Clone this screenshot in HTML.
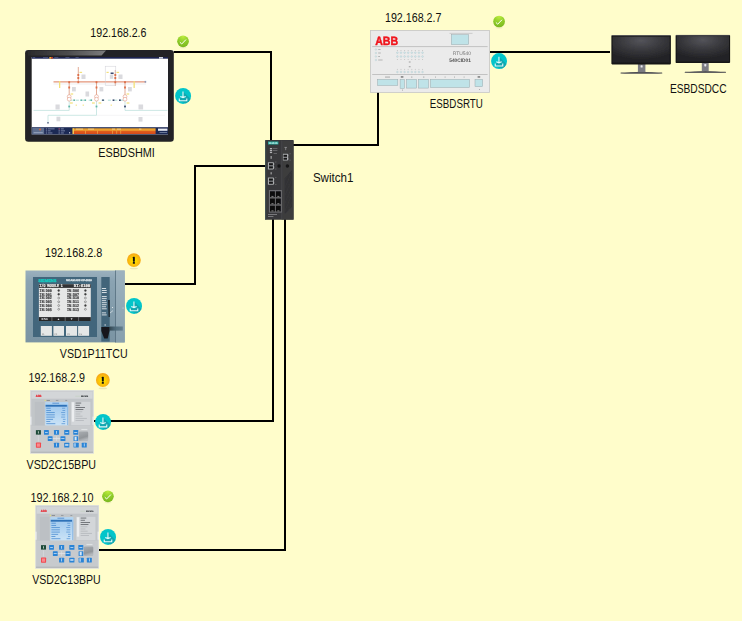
<!DOCTYPE html>
<html><head><meta charset="utf-8"><title>Network topology</title>
<style>
html,body{margin:0;padding:0;background:#fffdcb;overflow:hidden}
svg{display:block;font-family:"Liberation Sans",sans-serif;font-size:12px;fill:#111}
#tcu,#rtu,#switch,#bpuart,#hmi,#dcc{text-rendering:geometricPrecision}
</style></head><body>
<svg width="742" height="621" viewBox="0 0 742 621">
<defs>
<radialGradient id="gok" cx="0.5" cy="0.08" r="0.95"><stop offset="0" stop-color="#bdec3e"/><stop offset="0.45" stop-color="#93d12b"/><stop offset="1" stop-color="#78b41f"/></radialGradient>
<radialGradient id="gwarn" cx="0.5" cy="0.55" r="0.55"><stop offset="0" stop-color="#ffec00"/><stop offset="0.35" stop-color="#ffd400"/><stop offset="1" stop-color="#f5a31a"/></radialGradient>
<clipPath id="dlclip"><circle r="8"/></clipPath>
<g id="ok"><ellipse cx="0" cy="6.3" rx="3.6" ry="0.7" fill="#e9e6b4" opacity="0.8"/><circle r="5.85" fill="url(#gok)"/><path d="M-3.2,0.9 L-1.35,2.7 L2.95,-1.75" fill="none" stroke="#fff" stroke-width="1.0" stroke-linejoin="round"/></g>
<g id="warn"><ellipse cx="0" cy="8.4" rx="4.2" ry="0.8" fill="#dcdba8" opacity="0.6"/><circle r="6.9" fill="url(#gwarn)"/><rect x="-1" y="-3.2" width="1.95" height="4.8" rx="0.4" fill="#111"/><rect x="-1.1" y="2.05" width="2.15" height="1.65" rx="0.5" fill="#111"/></g>
<g id="dl"><circle r="8" fill="#03c5ca"/><path d="M0,-4.4 L8,3.6 L8,8 L3.7,8 L-3.8,4.9 L-3.8,2.4 L0,1.7 Z" fill="#12a7b0" clip-path="url(#dlclip)"/><path d="M-0.1,-4.4 V1.2 M-2.8,0.55 L-0.1,1.7 L2.6,0.55 M-3.8,2.5 V4.9 H3.7 V2.5" fill="none" stroke="#e4fafa" stroke-width="1.1"/></g>
<filter id="soft" x="-5%" y="-5%" width="110%" height="110%"><feGaussianBlur stdDeviation="0.35"/></filter>
<linearGradient id="gloss" x1="0" y1="0" x2="1" y2="0"><stop offset="0" stop-color="#2a2a2c"/><stop offset="0.5" stop-color="#4a4a4c"/><stop offset="1" stop-color="#7c7c7e"/></linearGradient>
<linearGradient id="alarm" x1="0" y1="0" x2="0" y2="1"><stop offset="0" stop-color="#e8a030"/><stop offset="0.36" stop-color="#f0a22c"/><stop offset="0.46" stop-color="#e0601f"/><stop offset="1" stop-color="#d64a1a"/></linearGradient>
<radialGradient id="scr" cx="0.5" cy="0.15" r="0.75" gradientTransform="translate(0 0) scale(1 1)"><stop offset="0" stop-color="#54545a"/><stop offset="0.55" stop-color="#36363a"/><stop offset="1" stop-color="#222225"/></radialGradient>
<clipPath id="ventclip"><path d="M291.8,170.6 L284.9,178.4 V213.4 L291.8,206.6 Z"/></clipPath>
<linearGradient id="lcd" x1="0" y1="0" x2="0" y2="1"><stop offset="0" stop-color="#b4d6f3"/><stop offset="0.25" stop-color="#a6cdf0"/><stop offset="1" stop-color="#cbe3f6"/></linearGradient>
<linearGradient id="cover" x1="0" y1="0" x2="0.3" y2="1"><stop offset="0" stop-color="#a9adb1"/><stop offset="0.7" stop-color="#92969a"/><stop offset="1" stop-color="#b4b8bc"/></linearGradient>
<g id="bpuart" filter="url(#soft)"><rect x="0.01" y="0.02" width="63.75" height="63.61" fill="#d9dbdd"/>
<rect x="0.82" y="0.83" width="62.13" height="61.99" fill="#c9cccf"/>
<rect x="1.49" y="1.64" width="60.78" height="6.74" fill="#d3d6d8"/>
<rect x="1.49" y="8.92" width="60.78" height="27.09" fill="#c2c6c9"/>
<rect x="1.49" y="36.54" width="60.78" height="24.39" fill="#c7cacd"/>
<rect x="0.82" y="61.48" width="62.13" height="1.35" fill="#b4b8bb"/>
<rect x="0.01" y="26.57" width="1.35" height="8.09" fill="#eceeef"/>
<rect x="62.41" y="26.57" width="1.35" height="8.09" fill="#eceeef"/>
<text x="5.67" y="7.16" textLength="5.66" lengthAdjust="spacingAndGlyphs" style="font-size:3px;font-weight:bold;fill:#e8222c;stroke:#e8222c;stroke-width:0.2px">ABB</text>
<text x="50.82" y="6.89" textLength="7.28" lengthAdjust="spacingAndGlyphs" style="font-size:2.2px;font-weight:bold;fill:#3c4044;stroke:#3c4044;stroke-width:0.15px">REF615</text>
<rect x="45.16" y="5.68" width="5.12" height="0.81" fill="#c6d2c4"/>
<rect x="14.56" y="9.72" width="1.08" height="1.08" fill="#ecea6a"/>
<rect x="16.45" y="9.86" width="3.37" height="0.81" fill="#7d8186"/>
<rect x="25.75" y="9.86" width="2.56" height="0.81" fill="#8d9196"/>
<rect x="35.18" y="9.86" width="1.89" height="0.81" fill="#8d9196"/>
<rect x="4.72" y="11.75" width="9.43" height="23.32" fill="#bcc0c4"/>
<rect x="15.1" y="12.02" width="23.05" height="23.32" fill="url(#lcd)"/>
<rect x="22.25" y="12.55" width="6.74" height="1.21" fill="#6fa0d6"/>
<rect x="15.51" y="14.71" width="21.29" height="1.89" fill="#2f72b8"/>
<rect x="36.94" y="14.71" width="1.08" height="20.35" fill="#8fbbe6"/>
<rect x="16.18" y="17.68" width="4.45" height="0.81" fill="#4f8fd2"/>
<rect x="31.95" y="17.68" width="3.1" height="0.81" fill="#5f9ad6"/>
<rect x="16.18" y="19.9" width="4.72" height="0.81" fill="#4f8fd2"/>
<rect x="32.35" y="19.9" width="2.7" height="0.81" fill="#5f9ad6"/>
<rect x="16.18" y="22.12" width="8.49" height="0.81" fill="#4f8fd2"/>
<rect x="31.01" y="22.12" width="4.04" height="0.81" fill="#5f9ad6"/>
<rect x="16.18" y="24.35" width="8.49" height="0.81" fill="#4f8fd2"/>
<rect x="31.41" y="24.35" width="3.64" height="0.81" fill="#5f9ad6"/>
<rect x="16.18" y="26.57" width="8.49" height="0.81" fill="#4f8fd2"/>
<rect x="31.01" y="26.57" width="4.04" height="0.81" fill="#5f9ad6"/>
<rect x="16.18" y="28.79" width="6.74" height="0.81" fill="#4f8fd2"/>
<rect x="32.76" y="28.79" width="2.7" height="0.81" fill="#5f9ad6"/>
<rect x="16.18" y="31.02" width="4.04" height="0.81" fill="#4f8fd2"/>
<rect x="32.76" y="31.02" width="2.29" height="0.81" fill="#5f9ad6"/>
<rect x="16.18" y="33.24" width="9.03" height="0.81" fill="#4f8fd2"/>
<rect x="31.41" y="33.24" width="3.64" height="0.81" fill="#5f9ad6"/>
<rect x="41.11" y="11.75" width="19.14" height="23.32" fill="#d3d6d9"/>
<rect x="41.65" y="12.15" width="2.29" height="19.41" fill="#eceef0"/>
<rect x="45.43" y="12.55" width="5.66" height="0.81" fill="#5e6267"/>
<rect x="45.43" y="14.74" width="4.31" height="0.81" fill="#5e6267"/>
<rect x="45.43" y="16.92" width="9.43" height="0.81" fill="#5e6267"/>
<rect x="45.43" y="19.1" width="7.82" height="0.81" fill="#5e6267"/>
<rect x="45.43" y="21.29" width="6.74" height="0.81" fill="#b4b8bc"/>
<rect x="45.43" y="23.47" width="4.85" height="0.81" fill="#b4b8bc"/>
<rect x="45.43" y="25.65" width="7.01" height="0.81" fill="#b4b8bc"/>
<rect x="45.43" y="27.84" width="11.32" height="0.81" fill="#b4b8bc"/>
<rect x="45.43" y="30.02" width="8.36" height="0.81" fill="#b4b8bc"/>
<rect x="5.8" y="40.05" width="4.99" height="4.45" fill="#1d4a38"/>
<rect x="13.89" y="39.91" width="4.85" height="4.72" fill="#2b84d6" rx="0.5"/>
<rect x="23.86" y="39.91" width="5.12" height="4.72" fill="#2b84d6" rx="0.5"/>
<rect x="34.1" y="39.91" width="5.12" height="4.72" fill="#2b84d6" rx="0.5"/>
<rect x="43.13" y="39.91" width="4.99" height="4.72" fill="#2b84d6" rx="0.5"/>
<rect x="17.66" y="46.11" width="4.85" height="4.72" fill="#2b84d6" rx="0.5"/>
<rect x="30.33" y="46.11" width="4.99" height="4.72" fill="#2b84d6" rx="0.5"/>
<rect x="43.4" y="46.11" width="4.72" height="4.72" fill="#2b84d6" rx="0.5"/>
<rect x="22.51" y="48.13" width="7.82" height="0.54" fill="#eef0f2"/>
<rect x="26.02" y="46.11" width="0.54" height="4.72" fill="#dfe2e5"/>
<rect x="7.82" y="45.03" width="0.54" height="6.47" fill="#dde0e3"/>
<rect x="5.8" y="52.45" width="5.12" height="5.12" fill="#f2484e" rx="0.6"/>
<rect x="23.86" y="52.58" width="5.12" height="4.85" fill="#2b84d6" rx="0.5"/>
<rect x="34.1" y="52.58" width="5.12" height="4.85" fill="#2b84d6" rx="0.5"/>
<rect x="43.4" y="52.58" width="5.26" height="4.85" fill="#2b84d6" rx="0.5"/>
<rect x="51.63" y="52.58" width="4.99" height="4.85" fill="#2b84d6" rx="0.5"/>
<rect x="7.82" y="41.13" width="0.81" height="2.29" fill="#cfe0d6"/>
<rect x="14.97" y="41.94" width="2.7" height="0.67" fill="#e6f1fb"/>
<rect x="26.15" y="40.86" width="0.67" height="2.83" fill="#e6f1fb"/>
<rect x="35.18" y="41.94" width="2.96" height="0.67" fill="#e6f1fb"/>
<rect x="44.08" y="41.94" width="3.1" height="0.67" fill="#e6f1fb"/>
<rect x="18.47" y="48.13" width="3.1" height="0.67" fill="#e6f1fb"/>
<rect x="31.14" y="48.13" width="3.23" height="0.67" fill="#e6f1fb"/>
<rect x="44.48" y="46.65" width="2.02" height="3.64" fill="#d5e8f8"/>
<rect x="26.15" y="53.26" width="0.67" height="3.1" fill="#e6f1fb"/>
<rect x="35.05" y="54.2" width="3.23" height="1.35" fill="#e6f1fb"/>
<rect x="44.35" y="53.12" width="1.08" height="3.5" fill="#e6f1fb"/>
<rect x="53.78" y="53.26" width="0.67" height="3.1" fill="#e6f1fb"/>
<rect x="6.75" y="53.39" width="3.1" height="3.23" fill="#f88a8e"/>
<rect x="48.66" y="41.4" width="9.43" height="9.43" fill="url(#cover)" rx="1.2"/>
<rect x="51.22" y="38.84" width="6.06" height="1.08" fill="#dfe2e4"/></g>
<linearGradient id="tcuside" x1="0" y1="0" x2="0" y2="1"><stop offset="0" stop-color="#9db2be"/><stop offset="1" stop-color="#879fad"/></linearGradient>
<linearGradient id="tcuband" x1="0" y1="0" x2="1" y2="0"><stop offset="0" stop-color="#2c3e49"/><stop offset="0.45" stop-color="#4b6777"/><stop offset="1" stop-color="#5d7888"/></linearGradient>
<linearGradient id="tcubody" x1="0" y1="0" x2="0" y2="1"><stop offset="0" stop-color="#9bb1be"/><stop offset="0.15" stop-color="#8aa3b2"/><stop offset="1" stop-color="#7a94a3"/></linearGradient>
</defs>
<!-- LINES -->
<g fill="none" stroke="#000" stroke-width="2" shape-rendering="crispEdges">
<path d="M173,52 H271 V141"/>
<path d="M293,145 H378 V92"/>
<path d="M490,52 H610"/>
<path d="M125,284 H195 V166 H266"/>
<path d="M94,421 H273 V219"/>
<path d="M99,550 H285 V219"/>
</g>
<!-- DEVICES -->
<g id="hmi" filter="url(#soft)">
<path d="M25.1,50 h3 l-3,3z M173.8,50 h-3 l3,3z" fill="#f4f2e4"/><rect x="25.1" y="50" width="148.7" height="91.7" rx="3.2" fill="#242425"/>
<path d="M28,50.5 H106 L101.5,55.4 H28 Z" fill="url(#gloss)"/>
<rect x="31.7" y="57" width="136.3" height="77.5" fill="#fff"/>
<rect x="31.7" y="57" width="136.3" height="1.7" fill="#1b2450"/>
<rect x="49.3" y="57" width="1.8" height="1.7" fill="#e8b030"/><rect x="51.1" y="57" width="1.7" height="1.7" fill="#d84a2a"/><g fill="#56608a"><rect x="32.6" y="57.3" width="2.6" height="1"/><rect x="43" y="57.3" width="5" height="1"/><rect x="54.3" y="57.3" width="4" height="1"/><rect x="65.4" y="57.3" width="4" height="1"/><rect x="75.5" y="57.3" width="3.2" height="1"/></g>
<rect x="159" y="57.1" width="4" height="1.5" fill="#dfe3ee"/>
<!-- single line diagram -->
<g fill="none">
<path d="M53.5,81.8 H146" stroke="#e3957a" stroke-width="1.35"/>
<path d="M53.5,84 H146" stroke="#dcdce2" stroke-width="0.5"/>
<path d="M78.3,67 V82 M69.2,82 V96 M96.5,82 V96 M125,82 V96 M115.3,70 V86" stroke="#e0a38a" stroke-width="0.9"/>
<rect x="105.2" y="66.2" width="10.6" height="19.2" stroke="#cfcfd6" stroke-width="0.5"/>
<path d="M69.5,100.2 H125" stroke="#9ad6cc" stroke-width="0.8" stroke-dasharray="3 3.4"/>
<path d="M69.2,101 V110.4 H33.5 M96.5,101 V115.3 H48 V122.5 M125,101 V110.4 H167.5" stroke="#b7deda" stroke-width="0.7"/>
<path d="M96.5,115.3 H165" stroke="#e4e4e8" stroke-width="0.4"/>
</g>
<g fill="#dc6f4a">
<rect x="77.4" y="74" width="1.8" height="2"/><rect x="77.4" y="77" width="1.8" height="2"/>
<rect x="114.4" y="74" width="1.8" height="2"/><rect x="114.4" y="77" width="1.8" height="2"/>
<rect x="68.3" y="86.5" width="1.8" height="2"/><rect x="95.6" y="86.5" width="1.8" height="2"/><rect x="124.1" y="86.5" width="1.8" height="2"/>
<rect x="68.3" y="81.2" width="1.8" height="2"/><rect x="77.4" y="81.2" width="1.8" height="2"/><rect x="95.6" y="81.2" width="1.8" height="2"/><rect x="114.4" y="81.2" width="1.8" height="2"/><rect x="124.1" y="81.2" width="1.8" height="2"/>
</g>
<g fill="#f3e07a">
<rect x="59" y="81" width="1.3" height="7"/><rect x="133.5" y="81" width="1.3" height="7"/>
<rect x="79.5" y="71.8" width="2.6" height="1.2"/><rect x="116.5" y="71.8" width="2.6" height="1.2"/><rect x="106.5" y="71.8" width="2.2" height="1.2"/><rect x="144.6" y="80.9" width="1.6" height="1.8" fill="#8f9ab8"/>
<rect x="70.6" y="93.4" width="2.6" height="1.2"/><rect x="126.6" y="93.4" width="2.6" height="1.2"/>
<rect x="70" y="102.4" width="2.8" height="1.2"/><rect x="92" y="102.4" width="2.8" height="1.2"/><rect x="98.5" y="102.4" width="2.8" height="1.2"/><rect x="126.6" y="102.4" width="2.8" height="1.2"/>
<rect x="75.7" y="104.5" width="1" height="1.4"/><rect x="82.7" y="104.5" width="1" height="1.4"/><rect x="110.7" y="104.5" width="1" height="1.4"/>
</g>
<g fill="#fff" stroke="#e39a84" stroke-width="0.6">
<circle cx="69.2" cy="96.6" r="1.9"/><circle cx="69.2" cy="99.2" r="1.9"/>
<circle cx="96.5" cy="96.6" r="1.9"/><circle cx="96.5" cy="99.2" r="1.9"/>
<circle cx="125" cy="96.6" r="1.9"/><circle cx="125" cy="99.2" r="1.9"/>
</g>
<g fill="#63b7a8">
<rect x="73.3" y="99.4" width="1.8" height="1.6"/><rect x="80.4" y="99.4" width="1.8" height="1.6"/><rect x="84.5" y="99.4" width="1.6" height="1.6"/><rect x="90.5" y="99.4" width="1.6" height="1.6"/>
<rect x="68.3" y="105.6" width="1.8" height="1.8"/><rect x="95.6" y="105.6" width="1.8" height="1.8"/>
</g>
<g fill="#3b4a6e">
<rect x="102.2" y="99.4" width="1.6" height="1.6"/><rect x="112.6" y="99.4" width="1.8" height="1.6"/><rect x="119" y="99.4" width="1.8" height="1.6"/><rect x="124.1" y="105.6" width="1.8" height="1.8"/>
<rect x="110.6" y="72.5" width="3" height="1.6"/><rect x="47.4" y="122" width="1.2" height="1.6"/>
</g>
<g fill="#dadade">
<rect x="81.5" y="74.5" width="4" height="4.5"/><rect x="118.5" y="74.5" width="4" height="4.5"/><rect x="109.8" y="74.8" width="3.4" height="4"/>
<rect x="72" y="87" width="3.8" height="4.4"/><rect x="99.5" y="87" width="3.8" height="4.4"/><rect x="128" y="87" width="3.8" height="4.4"/>
<rect x="85.5" y="91.5" width="3.6" height="5"/><rect x="55.5" y="104.5" width="4.2" height="5"/><rect x="138.5" y="104.5" width="4.6" height="5"/>
<rect x="56.5" y="116.7" width="3.8" height="4.6"/><rect x="138.5" y="117" width="4" height="4.6"/>
</g>
<!-- bottom status bar -->
<rect x="31.7" y="127.2" width="136.3" height="7.3" fill="#1e2a55"/>
<rect x="32.2" y="127.8" width="12" height="6.2" fill="#60708f"/>
<circle cx="40" cy="129.5" r="0.9" fill="#e8692c"/>
<rect x="33.6" y="132.2" width="9.2" height="1" fill="#98a6c0"/>
<g fill="#7d8bab"><rect x="45.8" y="128.4" width="1.4" height="1"/><rect x="48" y="128.4" width="6.6" height="0.9"/><rect x="45.8" y="130.4" width="1.4" height="1"/><rect x="48" y="130.4" width="2.6" height="0.9"/><rect x="45.8" y="132.5" width="1.4" height="1"/><rect x="48" y="132.5" width="4.4" height="0.9"/>
<rect x="58.5" y="128.4" width="1.4" height="1" fill="#c45a7a"/><rect x="60.8" y="128.4" width="3" height="0.9"/><rect x="58.5" y="130.4" width="1.4" height="1"/><rect x="60.8" y="130.4" width="4.2" height="0.9"/><rect x="58.5" y="132.5" width="1.4" height="1"/><rect x="60.8" y="132.5" width="3" height="0.9"/><rect x="69" y="132.2" width="1.2" height="1.2" fill="#c9d0e0"/></g>
<rect x="72.6" y="128.3" width="83" height="5.7" fill="url(#alarm)"/>
<rect x="72.6" y="128.3" width="1.3" height="5.7" fill="#f2d25a"/><g fill="#f4b850"><rect x="85.4" y="130.6" width="0.6" height="3.2"/><rect x="97" y="130.6" width="0.6" height="3.2"/><rect x="112.4" y="130.6" width="0.6" height="3.2"/><rect x="116.5" y="130.6" width="0.6" height="3.2"/><rect x="120.5" y="130.6" width="0.6" height="3.2"/></g><g fill="#f6d9a0"><rect x="76" y="128.7" width="7" height="0.8"/><rect x="88" y="128.7" width="6" height="0.8"/><rect x="112" y="128.7" width="3" height="0.8"/><rect x="117" y="128.7" width="4" height="0.8"/><rect x="139" y="128.7" width="2.4" height="0.8"/></g>
<rect x="158" y="128.6" width="9.4" height="2.2" fill="#e9ecf2"/>
<rect x="159.5" y="132" width="7.6" height="1" fill="#6b7896"/>
</g>

<g id="rtu" filter="url(#soft)">
<rect x="370.4" y="30.4" width="119.2" height="62" fill="#ebebeb" stroke="#c6c6c6" stroke-width="0.8"/>
<text x="375.2" y="44.6" textLength="23" lengthAdjust="spacingAndGlyphs" style="font-weight:bold;font-size:12px;fill:#f0141c;stroke:#f0141c;stroke-width:0.45px">ABB</text>
<rect x="449.5" y="32.9" width="23" height="0.6" fill="#b5b5b5"/>
<rect x="451.3" y="34.7" width="17.4" height="9.9" fill="#bfe3e8" stroke="#9aa9ad" stroke-width="0.5"/>
<path d="M372.2,46.6 H487.6 M372.2,74.5 H487.6" stroke="#a6a6a6" stroke-width="0.6" fill="none"/>
<circle cx="375.9" cy="49.5" r="0.8" fill="#d8eef0" stroke="#9fb9bd" stroke-width="0.3"/><rect x="378.2" y="49.1" width="2.4" height="0.8" fill="#a8a8a8"/><circle cx="375.9" cy="53" r="0.8" fill="#d8eef0" stroke="#9fb9bd" stroke-width="0.3"/><rect x="378.2" y="52.6" width="2.6" height="0.8" fill="#a8a8a8"/><circle cx="375.9" cy="56.5" r="0.8" fill="#d8eef0" stroke="#9fb9bd" stroke-width="0.3"/><rect x="378.2" y="56.1" width="1.8" height="0.8" fill="#a8a8a8"/><circle cx="375.9" cy="60" r="0.8" fill="#d8eef0" stroke="#9fb9bd" stroke-width="0.3"/><rect x="378.2" y="59.6" width="4.4" height="0.8" fill="#a8a8a8"/><circle cx="397.40" cy="52.7" r="0.85" fill="#d4ecef" stroke="#9db5ba" stroke-width="0.3"/><circle cx="397.40" cy="56.5" r="0.85" fill="#d4ecef" stroke="#9db5ba" stroke-width="0.3"/><circle cx="397.40" cy="72.0" r="0.85" fill="#d4ecef" stroke="#9db5ba" stroke-width="0.3"/><rect x="396.90" y="50.15" width="1" height="0.6" fill="#b2b2b2"/><rect x="396.90" y="59.15" width="1" height="0.6" fill="#b2b2b2"/><rect x="396.90" y="68.95" width="1" height="0.6" fill="#b2b2b2"/><circle cx="400.99" cy="52.7" r="0.85" fill="#d4ecef" stroke="#9db5ba" stroke-width="0.3"/><circle cx="400.99" cy="56.5" r="0.85" fill="#d4ecef" stroke="#9db5ba" stroke-width="0.3"/><circle cx="400.99" cy="72.0" r="0.85" fill="#d4ecef" stroke="#9db5ba" stroke-width="0.3"/><rect x="400.49" y="50.15" width="1" height="0.6" fill="#b2b2b2"/><rect x="400.49" y="59.15" width="1" height="0.6" fill="#b2b2b2"/><rect x="400.49" y="68.95" width="1" height="0.6" fill="#b2b2b2"/><circle cx="404.58" cy="52.7" r="0.85" fill="#d4ecef" stroke="#9db5ba" stroke-width="0.3"/><circle cx="404.58" cy="56.5" r="0.85" fill="#d4ecef" stroke="#9db5ba" stroke-width="0.3"/><circle cx="404.58" cy="72.0" r="0.85" fill="#d4ecef" stroke="#9db5ba" stroke-width="0.3"/><rect x="404.08" y="50.15" width="1" height="0.6" fill="#b2b2b2"/><rect x="404.08" y="59.15" width="1" height="0.6" fill="#b2b2b2"/><rect x="404.08" y="68.95" width="1" height="0.6" fill="#b2b2b2"/><circle cx="408.17" cy="52.7" r="0.85" fill="#d4ecef" stroke="#9db5ba" stroke-width="0.3"/><circle cx="408.17" cy="56.5" r="0.85" fill="#d4ecef" stroke="#9db5ba" stroke-width="0.3"/><circle cx="408.17" cy="72.0" r="0.85" fill="#d4ecef" stroke="#9db5ba" stroke-width="0.3"/><rect x="407.67" y="50.15" width="1" height="0.6" fill="#b2b2b2"/><rect x="407.67" y="59.15" width="1" height="0.6" fill="#b2b2b2"/><rect x="407.67" y="68.95" width="1" height="0.6" fill="#b2b2b2"/><circle cx="411.76" cy="52.7" r="0.85" fill="#d4ecef" stroke="#9db5ba" stroke-width="0.3"/><circle cx="411.76" cy="56.5" r="0.85" fill="#d4ecef" stroke="#9db5ba" stroke-width="0.3"/><circle cx="411.76" cy="72.0" r="0.85" fill="#d4ecef" stroke="#9db5ba" stroke-width="0.3"/><rect x="411.26" y="50.15" width="1" height="0.6" fill="#b2b2b2"/><rect x="411.26" y="59.15" width="1" height="0.6" fill="#b2b2b2"/><rect x="411.26" y="68.95" width="1" height="0.6" fill="#b2b2b2"/><circle cx="415.35" cy="52.7" r="0.85" fill="#d4ecef" stroke="#9db5ba" stroke-width="0.3"/><circle cx="415.35" cy="56.5" r="0.85" fill="#d4ecef" stroke="#9db5ba" stroke-width="0.3"/><circle cx="415.35" cy="72.0" r="0.85" fill="#d4ecef" stroke="#9db5ba" stroke-width="0.3"/><rect x="414.85" y="50.15" width="1" height="0.6" fill="#b2b2b2"/><rect x="414.85" y="59.15" width="1" height="0.6" fill="#b2b2b2"/><rect x="414.85" y="68.95" width="1" height="0.6" fill="#b2b2b2"/><circle cx="418.94" cy="52.7" r="0.85" fill="#d4ecef" stroke="#9db5ba" stroke-width="0.3"/><circle cx="418.94" cy="56.5" r="0.85" fill="#d4ecef" stroke="#9db5ba" stroke-width="0.3"/><circle cx="418.94" cy="72.0" r="0.85" fill="#d4ecef" stroke="#9db5ba" stroke-width="0.3"/><rect x="418.44" y="50.15" width="1" height="0.6" fill="#b2b2b2"/><rect x="418.44" y="59.15" width="1" height="0.6" fill="#b2b2b2"/><rect x="418.44" y="68.95" width="1" height="0.6" fill="#b2b2b2"/><circle cx="422.53" cy="52.7" r="0.85" fill="#d4ecef" stroke="#9db5ba" stroke-width="0.3"/><circle cx="422.53" cy="56.5" r="0.85" fill="#d4ecef" stroke="#9db5ba" stroke-width="0.3"/><circle cx="422.53" cy="72.0" r="0.85" fill="#d4ecef" stroke="#9db5ba" stroke-width="0.3"/><rect x="422.03" y="50.15" width="1" height="0.6" fill="#b2b2b2"/><rect x="422.03" y="59.15" width="1" height="0.6" fill="#b2b2b2"/><rect x="422.03" y="68.95" width="1" height="0.6" fill="#b2b2b2"/>
<rect x="408.8" y="61.6" width="1.8" height="0.8" fill="#8c8c8c"/><rect x="408.8" y="66.4" width="1.8" height="0.8" fill="#8c8c8c"/>
<text x="452.8" y="54.9" textLength="18.2" lengthAdjust="spacingAndGlyphs" style="font-size:5px;fill:#707070">RTU540</text>
<text x="449.2" y="61.6" textLength="21.8" lengthAdjust="spacingAndGlyphs" style="font-size:5px;font-weight:bold;fill:#505050">540CID01</text>
<g fill="#bfe3e8" stroke="#9aa9ad" stroke-width="0.5">
<rect x="377.6" y="79.4" width="20.2" height="6"/>
<rect x="400.1" y="79.4" width="4.3" height="9"/>
<rect x="406.5" y="79.4" width="10.2" height="8.7"/>
<rect x="418.4" y="79.4" width="10.2" height="8.7"/>
<rect x="430.4" y="79.4" width="39.2" height="8.1"/>
<rect x="475" y="79.4" width="7.7" height="7.3"/>
</g>
<g fill="#8e8e8e">
<rect x="385" y="76.7" width="5" height="0.7"/><rect x="400.8" y="76.4" width="2.6" height="1.1" fill="#555"/><rect x="411" y="76.7" width="1.4" height="0.7"/><rect x="423" y="76.7" width="1.4" height="0.7"/>
<rect x="435" y="76.7" width="1" height="0.7"/><rect x="444.6" y="76.7" width="1" height="0.7"/><rect x="454" y="76.7" width="1" height="0.7"/><rect x="463.6" y="76.7" width="1" height="0.7"/>
<rect x="477.6" y="76.4" width="2.6" height="1.1" fill="#555"/><rect x="402" y="89.6" width="0.7" height="1"/><rect x="479" y="89" width="0.8" height="0.8"/>
</g>
</g>

<g id="dcc" filter="url(#soft)">
<path d="M620.5,73.4 Q641.5,70.2 662.3,73.4 Z" fill="#55555a"/>
<rect x="620.5" y="72.6" width="41.8" height="1" rx="0.5" fill="#4a4a4f"/>
<rect x="637.9" y="63.5" width="7.5" height="8.6" fill="#7c7c83"/>
<rect x="640.6" y="65.2" width="2" height="2.4" rx="0.6" fill="#e8e8ee"/>
<rect x="611.4" y="35.3" width="59.5" height="29.1" rx="0.8" fill="#151517"/><rect x="611.8" y="35.3" width="58.7" height="0.7" fill="#5c5c62"/>
<rect x="612.6" y="36.6" width="57.1" height="26" fill="url(#scr)"/>
<path d="M684.7,72.5 Q705.3,69.4 726,72.5 Z" fill="#55555a"/>
<rect x="684.7" y="71.7" width="41.3" height="1" rx="0.5" fill="#4a4a4f"/>
<rect x="701.8" y="62.5" width="6.9" height="8.6" fill="#7c7c83"/>
<rect x="704.3" y="64" width="2" height="2.4" rx="0.6" fill="#e8e8ee"/>
<rect x="675.6" y="34.9" width="54.5" height="28.2" rx="0.8" fill="#151517"/><rect x="676" y="34.9" width="53.7" height="0.7" fill="#5c5c62"/>
<rect x="676.7" y="36.1" width="52.3" height="25.4" fill="url(#scr)"/>
</g>

<g id="switch" filter="url(#soft)">
<rect x="265.2" y="140.1" width="28.5" height="79.7" rx="0.6" fill="#38383a"/>
<rect x="265.2" y="140.1" width="1" height="79.7" fill="#3f5050"/>
<rect x="282" y="140.6" width="11.3" height="78.8" fill="#3c3c3e"/>
<rect x="281.6" y="140.6" width="0.5" height="78.8" fill="#555"/>
<rect x="268" y="141.5" width="10.4" height="3" fill="#23a79c"/>
<text x="268.7" y="144" textLength="9" lengthAdjust="spacingAndGlyphs" style="font-size:2.6px;font-weight:bold;fill:#d8f3ef">SIEMENS</text>
<g fill="#b4b4b7"><rect x="269.9" y="148" width="2.2" height="1.3"/><rect x="269.9" y="149.9" width="2.2" height="1.3"/><rect x="269.9" y="151.8" width="2.2" height="1.3"/><rect x="270.4" y="156" width="1.6" height="2.8" fill="#8a8a8c"/><rect x="270.4" y="172.2" width="1.6" height="2.2" fill="#8a8a8c"/></g>
<g fill="#77777a"><rect x="272.8" y="148.3" width="4.6" height="0.7"/><rect x="272.8" y="150.2" width="4.6" height="0.7"/><rect x="273.6" y="153" width="3.4" height="0.7"/><rect x="275.4" y="161.6" width="0.9" height="0.9"/><rect x="275.4" y="168.6" width="0.9" height="0.9"/><rect x="275.4" y="177.2" width="0.9" height="0.9"/><rect x="275.4" y="184" width="0.9" height="0.9"/><rect x="289.6" y="153.3" width="0.9" height="0.9"/><rect x="289.6" y="159.7" width="0.9" height="0.9"/></g>
<g fill="#a9abad">
<path d="M267.9,162.3 h5 q1.3,0 1.3,1.3 v1.2 q0,0.9 -0.9,1 q0.9,0.1 0.9,1 v1.3 q0,1.3 -1.3,1.3 h-5z"/>
<path d="M267.9,177.6 h5 q1.3,0 1.3,1.3 v1.2 q0,0.9 -0.9,1 q0.9,0.1 0.9,1 v1.3 q0,1.3 -1.3,1.3 h-5z"/>
<path d="M282.9,153.7 h4.3 q1.2,0 1.2,1.2 v1.1 q0,0.9 -0.9,1 q0.9,0.1 0.9,1 v1.2 q0,1.2 -1.2,1.2 h-4.3z"/>
</g>
<g fill="#161617"><rect x="269" y="163.2" width="3.9" height="2.2"/><rect x="269" y="166.3" width="3.9" height="2.2"/><rect x="269" y="178.5" width="3.9" height="2.2"/><rect x="269" y="181.6" width="3.9" height="2.2"/><rect x="283.5" y="154.8" width="3.5" height="2"/><rect x="283.5" y="157.7" width="3.5" height="2"/></g>
<path d="M284.4,147.4 h2.6 M285.7,147.4 v2.8" stroke="#aaa" stroke-width="0.6" fill="none"/>
<circle cx="279" cy="166" r="1.7" fill="#151516"/><circle cx="287.4" cy="166" r="1.7" fill="#151516"/>
<path d="M291.8,170.6 L284.9,178.4 V213.4 L291.8,206.6 Z" fill="#272729"/>
<path d="M284.9,175.50 L292.4,169.50 M284.9,176.65 L292.4,170.65 M284.9,177.80 L292.4,171.80 M284.9,178.95 L292.4,172.95 M284.9,180.10 L292.4,174.10 M284.9,181.25 L292.4,175.25 M284.9,182.40 L292.4,176.40 M284.9,183.55 L292.4,177.55 M284.9,184.70 L292.4,178.70 M284.9,185.85 L292.4,179.85 M284.9,187.00 L292.4,181.00 M284.9,188.15 L292.4,182.15 M284.9,189.30 L292.4,183.30 M284.9,190.45 L292.4,184.45 M284.9,191.60 L292.4,185.60 M284.9,192.75 L292.4,186.75 M284.9,193.90 L292.4,187.90 M284.9,195.05 L292.4,189.05 M284.9,196.20 L292.4,190.20 M284.9,197.35 L292.4,191.35 M284.9,198.50 L292.4,192.50 M284.9,199.65 L292.4,193.65 M284.9,200.80 L292.4,194.80 M284.9,201.95 L292.4,195.95 M284.9,203.10 L292.4,197.10 M284.9,204.25 L292.4,198.25 M284.9,205.40 L292.4,199.40 M284.9,206.55 L292.4,200.55 M284.9,207.70 L292.4,201.70 M284.9,208.85 L292.4,202.85 M284.9,210.00 L292.4,204.00 M284.9,211.15 L292.4,205.15 M284.9,212.30 L292.4,206.30 M284.9,213.45 L292.4,207.45 M284.9,214.60 L292.4,208.60 M284.9,215.75 L292.4,209.75 " stroke="#48484a" stroke-width="0.5" fill="none" clip-path="url(#ventclip)"/>
<rect x="268.9" y="190" width="13" height="22.6" fill="#6c6c6f"/>
<rect x="270.0" y="191.3" width="4.9" height="5.8" fill="#0c0c0d"/><rect x="271.4" y="195.9" width="2.1" height="1.2" fill="#777"/><rect x="275.9" y="191.3" width="4.9" height="5.8" fill="#0c0c0d"/><rect x="277.3" y="195.9" width="2.1" height="1.2" fill="#777"/><rect x="270.0" y="198.5" width="4.9" height="5.8" fill="#0c0c0d"/><rect x="271.4" y="203.1" width="2.1" height="1.2" fill="#777"/><rect x="275.9" y="198.5" width="4.9" height="5.8" fill="#0c0c0d"/><rect x="277.3" y="203.1" width="2.1" height="1.2" fill="#777"/><rect x="270.0" y="205.7" width="4.9" height="5.8" fill="#0c0c0d"/><rect x="271.4" y="210.3" width="2.1" height="1.2" fill="#777"/><rect x="275.9" y="205.7" width="4.9" height="5.8" fill="#0c0c0d"/><rect x="277.3" y="210.3" width="2.1" height="1.2" fill="#777"/>
<rect x="268" y="214.2" width="9" height="0.8" fill="#8a8a8c"/><rect x="268" y="216" width="5.4" height="0.8" fill="#8a8a8c"/>
</g>

<g id="tcu" filter="url(#soft)">
<rect x="25.5" y="270.5" width="99.2" height="71.9" fill="url(#tcubody)"/>
<rect x="115.4" y="270.5" width="9.3" height="71.9" fill="url(#tcuside)"/>
<rect x="115" y="270.5" width="0.8" height="71.9" fill="#566f7f"/>
<rect x="33" y="277" width="64" height="60" fill="#43667b"/>
<text x="38.3" y="281.95" textLength="18.2" lengthAdjust="spacingAndGlyphs" style="font-size:4px;font-weight:bold;fill:#18c7be;stroke:#18c7be;stroke-width:0.35px">SIEMENS</text>
<text x="66.1" y="281.1" textLength="25.6" lengthAdjust="spacingAndGlyphs" style="font-size:2.5px;font-weight:bold;fill:#e3ebee;stroke:#e3ebee;stroke-width:0.25px">SICAM AK3 CP-2016</text>
<rect x="38.9" y="284.2" width="51.9" height="36.8" fill="#e6e7e7"/>
<rect x="38.9" y="284.2" width="51.9" height="3.7" fill="#333335"/>
<g style="font-family:'Liberation Mono',monospace;font-size:4.3px;font-weight:bold;fill:#f2f2f2;stroke:#f2f2f2;stroke-width:0.2px"><text x="39.5" y="287.4" textLength="23.3" lengthAdjust="spacingAndGlyphs">I/O MODULE 1</text>
<text x="73.8" y="287.4" textLength="16.4" lengthAdjust="spacingAndGlyphs">DI-6100</text></g>
<g style="font-family:'Liberation Mono',monospace;font-size:4.3px;font-weight:bold;fill:#444446;stroke:#444446;stroke-width:0.2px"><text x="39.6" y="291.9" textLength="12.2" lengthAdjust="spacingAndGlyphs">IN:D00</text><text x="66.9" y="291.9" textLength="12.0" lengthAdjust="spacingAndGlyphs">IN:D06</text><circle cx="58.7" cy="290.55" r="0.95" fill="#3a3a3a" stroke="#4a4a4a" stroke-width="0.45"/><circle cx="85.4" cy="290.55" r="0.95" fill="#3a3a3a" stroke="#4a4a4a" stroke-width="0.45"/><text x="39.6" y="295.7" textLength="12.2" lengthAdjust="spacingAndGlyphs">IN:D01</text><text x="66.9" y="295.7" textLength="12.0" lengthAdjust="spacingAndGlyphs">IN:D07</text><circle cx="58.7" cy="294.30" r="0.95" fill="#3a3a3a" stroke="#4a4a4a" stroke-width="0.45"/><circle cx="85.4" cy="294.30" r="0.95" fill="#3a3a3a" stroke="#4a4a4a" stroke-width="0.45"/><text x="39.6" y="299.4" textLength="12.2" lengthAdjust="spacingAndGlyphs">IN:D02</text><text x="66.9" y="299.4" textLength="12.0" lengthAdjust="spacingAndGlyphs">IN:D10</text><circle cx="58.7" cy="298.05" r="0.95" fill="none" stroke="#4a4a4a" stroke-width="0.45"/><circle cx="85.4" cy="298.05" r="0.95" fill="none" stroke="#4a4a4a" stroke-width="0.45"/><text x="39.6" y="303.2" textLength="12.2" lengthAdjust="spacingAndGlyphs">IN:D03</text><text x="66.9" y="303.2" textLength="12.0" lengthAdjust="spacingAndGlyphs">IN:D11</text><circle cx="58.7" cy="301.80" r="0.95" fill="none" stroke="#4a4a4a" stroke-width="0.45"/><circle cx="85.4" cy="301.80" r="0.95" fill="none" stroke="#4a4a4a" stroke-width="0.45"/><text x="39.6" y="306.9" textLength="12.2" lengthAdjust="spacingAndGlyphs">IN:D04</text><text x="66.9" y="306.9" textLength="12.0" lengthAdjust="spacingAndGlyphs">IN:D12</text><circle cx="58.7" cy="305.55" r="0.95" fill="none" stroke="#4a4a4a" stroke-width="0.45"/><circle cx="85.4" cy="305.55" r="0.95" fill="#3a3a3a" stroke="#4a4a4a" stroke-width="0.45"/><text x="39.6" y="310.7" textLength="12.2" lengthAdjust="spacingAndGlyphs">IN:D05</text><text x="66.9" y="310.7" textLength="12.0" lengthAdjust="spacingAndGlyphs">IN:D13</text><circle cx="58.7" cy="309.30" r="0.95" fill="none" stroke="#4a4a4a" stroke-width="0.45"/><circle cx="85.4" cy="309.30" r="0.95" fill="none" stroke="#4a4a4a" stroke-width="0.45"/></g>
<rect x="38.9" y="317.1" width="51.9" height="3.9" fill="#262628"/>
<path d="M51.9,317.1 v3.9 M65.2,317.1 v3.9 M78.6,317.1 v3.9" stroke="#aaa" stroke-width="0.5"/>
<text x="41.6" y="320.3" textLength="6.6" lengthAdjust="spacingAndGlyphs" style="font-size:3px;font-weight:bold;fill:#e6e6e6">ESC</text>
<path d="M57.5,319.9 l1,-1.7 l1,1.7z M70.6,318.3 l1,1.7 l1,-1.7z" fill="#e0e0e0"/>
<g fill="#e5e7e7"><rect x="40.8" y="326" width="11.1" height="9.8"/><rect x="53.4" y="326" width="10.6" height="9.8"/><rect x="66" y="326" width="11.1" height="9.8"/><rect x="78.1" y="326" width="11" height="9.8"/></g>
<g style="font-size:2.2px;fill:#777"><text x="42" y="334.8">F1</text><text x="54.6" y="334.8">F2</text><text x="67.2" y="334.8">F3</text><text x="79.3" y="334.8">F4</text></g>
<rect x="101.3" y="277" width="8.4" height="64.6" fill="#43657a"/>
<rect x="101.9" y="288.10" width="4.2" height="0.85" fill="#eef2f4"/><rect x="101.9" y="290.13" width="4.8" height="0.85" fill="#eef2f4"/><rect x="101.9" y="292.16" width="4.8" height="0.85" fill="#eef2f4"/><rect x="101.9" y="296.22" width="4.8" height="0.85" fill="#eef2f4"/><rect x="101.9" y="298.25" width="4.8" height="0.85" fill="#eef2f4"/><rect x="101.9" y="300.28" width="4.2" height="0.85" fill="#eef2f4"/><rect x="101.9" y="302.31" width="4.8" height="0.85" fill="#eef2f4"/><rect x="101.9" y="304.34" width="4.8" height="0.85" fill="#eef2f4"/><rect x="101.9" y="306.37" width="4.2" height="0.85" fill="#eef2f4"/><rect x="101.9" y="308.40" width="4.8" height="0.85" fill="#eef2f4"/><rect x="101.9" y="312.46" width="4.2" height="0.85" fill="#eef2f4"/><rect x="101.9" y="314.49" width="4.8" height="0.85" fill="#eef2f4"/>
<path d="M108,299.9 L109.8,299.9 L109.8,317 L108.6,317 Z" fill="#1c262c"/>
<path d="M110,313 L113,310.6" stroke="#dfe8ec" stroke-width="0.7" fill="none"/>
<rect x="112" y="307" width="1" height="1" fill="#dfe6ea"/>
<rect x="104.4" y="324.4" width="1.6" height="1.2" fill="#b9c6cd"/>
<rect x="109.5" y="326.5" width="13.3" height="4.1" fill="url(#tcuband)" opacity="0.9"/>
<path d="M101.3,326.9 H109.5 V331 L107.7,338.4 H104.2 L101.3,331 Z" fill="#14181a"/>
<rect x="122.6" y="307.6" width="0.9" height="0.9" fill="#dfe6ea"/>
</g>

<use href="#bpuart" x="30.1" y="390.1"/>
<use href="#bpuart" x="35.2" y="505.1"/>
<!-- ICONS -->
<use href="#ok" x="183.05" y="41.3"/>
<use href="#dl" x="183.1" y="95.9"/>
<use href="#ok" x="499.05" y="21.5"/>
<use href="#dl" x="499.05" y="61.1"/>
<use href="#warn" x="133.9" y="260.05"/>
<use href="#dl" x="134.05" y="305.9"/>
<use href="#warn" x="102.85" y="380"/>
<use href="#dl" x="103.05" y="421.95"/>
<use href="#ok" x="107.95" y="496.3"/>
<use href="#dl" x="108.05" y="536.9"/>
<!-- LABELS -->
<g>
<text x="90.3" y="36.6" textLength="56.2" lengthAdjust="spacingAndGlyphs">192.168.2.6</text>
<text x="98.2" y="156.6" textLength="56.6" lengthAdjust="spacingAndGlyphs">ESBDSHMI</text>
<text x="385.0" y="22.4" textLength="56.4" lengthAdjust="spacingAndGlyphs">192.168.2.7</text>
<text x="429.8" y="108.0" textLength="53.0" lengthAdjust="spacingAndGlyphs">ESBDSRTU</text>
<text x="669.9" y="92.5" textLength="56.7" lengthAdjust="spacingAndGlyphs">ESBDSDCC</text>
<text x="312.9" y="182.0" textLength="40.6" lengthAdjust="spacingAndGlyphs">Switch1</text>
<text x="45.0" y="256.5" textLength="57.3" lengthAdjust="spacingAndGlyphs">192.168.2.8</text>
<text x="59.8" y="357.6" textLength="67.8" lengthAdjust="spacingAndGlyphs">VSD1P11TCU</text>
<text x="28.5" y="381.9" textLength="56.5" lengthAdjust="spacingAndGlyphs">192.168.2.9</text>
<text x="26.6" y="468.5" textLength="69.5" lengthAdjust="spacingAndGlyphs">VSD2C15BPU</text>
<text x="30.4" y="501.7" textLength="63.2" lengthAdjust="spacingAndGlyphs">192.168.2.10</text>
<text x="32.3" y="583.7" textLength="68.4" lengthAdjust="spacingAndGlyphs">VSD2C13BPU</text>
</g>
</svg>
</body></html>
